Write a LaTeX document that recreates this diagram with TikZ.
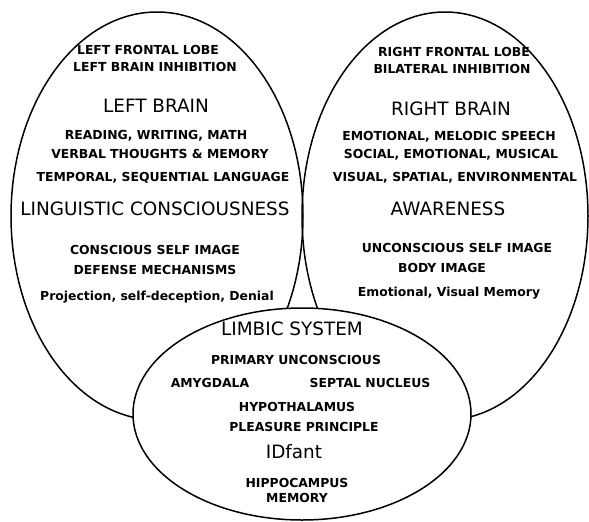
\documentclass[tikz,border=0pt]{standalone}
\usepackage{fontspec}
\setmainfont{DejaVu Sans}
\usetikzlibrary{shapes.geometric, positioning}

\begin{document}
\begin{tikzpicture}[x=1pt, y=-1pt, thick,
    lobe/.style={draw, ellipse, line width=1.5pt, inner sep=0pt},
    head/.style={font=\fontsize{18.4}{20}\selectfont, text height=13.4pt, text depth=0pt, inner sep=0pt},
    item/.style={font=\bfseries\fontsize{12.4}{14}\selectfont, text height=9pt, text depth=0pt, inner sep=0pt}]
    \useasboundingbox (0,0) rectangle (589,522);

    % Hemispheres
    \node[lobe, minimum width=292pt, minimum height=408pt] (leftlobe) at (157,216) {};
    \node[lobe, minimum width=286pt, minimum height=408pt] (rightlobe) at (445,216) {};
    % Limbic system, drawn over the lower ends
    \node[lobe, fill=white, minimum width=338pt, minimum height=212pt] (limbic) at (302,414) {};

    % Left brain
    \node[item] (lfl) at (148,50) {LEFT FRONTAL LOBE};
    \node[item] (lbi) at (155,67) {LEFT BRAIN INHIBITION};
    \node[head] (lb) at (156,106) {LEFT BRAIN};
    \node[item] (rwm) at (156,135) {READING, WRITING, MATH};
    \node[item] (vtm) at (160,154) {VERBAL THOUGHTS \& MEMORY};
    \node[item] (tsl) at (163,177) {TEMPORAL, SEQUENTIAL LANGUAGE};
    \node[head] (lc) at (155,209) {LINGUISTIC CONSCIOUSNESS};
    \node[item] (csi) at (155,250) {CONSCIOUS SELF IMAGE};
    \node[item] (dm) at (155,270) {DEFENSE MECHANISMS};
    \node[item] (psd) at (157,296) {Projection, self-deception, Denial};

    % Right brain
    \node[item] (rfl) at (454,52) {RIGHT FRONTAL LOBE};
    \node[item] (bi) at (452,69) {BILATERAL INHIBITION};
    \node[head] (rb) at (451,109) {RIGHT BRAIN};
    \node[item] (ems) at (449,136) {EMOTIONAL, MELODIC SPEECH};
    \node[item] (sem) at (451,154) {SOCIAL, EMOTIONAL, MUSICAL};
    \node[item] (vse) at (455,177) {VISUAL, SPATIAL, ENVIRONMENTAL};
    \node[head] (aw) at (448,209) {AWARENESS};
    \node[item] (usi) at (457,248) {UNCONSCIOUS SELF IMAGE};
    \node[item] (bim) at (442,268) {BODY IMAGE};
    \node[item] (evm) at (449,292) {Emotional, Visual Memory};

    % Limbic system
    \node[head] (ls) at (292,329) {LIMBIC SYSTEM};
    \node[item] (pu) at (296,360) {PRIMARY UNCONSCIOUS};
    \node[item] (amy) at (210,383) {AMYGDALA};
    \node[item] (sn) at (370,383) {SEPTAL NUCLEUS};
    \node[item] (hyp) at (297,407) {HYPOTHALAMUS};
    \node[item] (pp) at (304,427) {PLEASURE PRINCIPLE};
    \node[head] (idf) at (294,452) {IDfant};
    \node[item] (hip) at (297,483) {HIPPOCAMPUS};
    \node[item, below=5pt of hip] (mem) {MEMORY};
\end{tikzpicture}
\end{document}
